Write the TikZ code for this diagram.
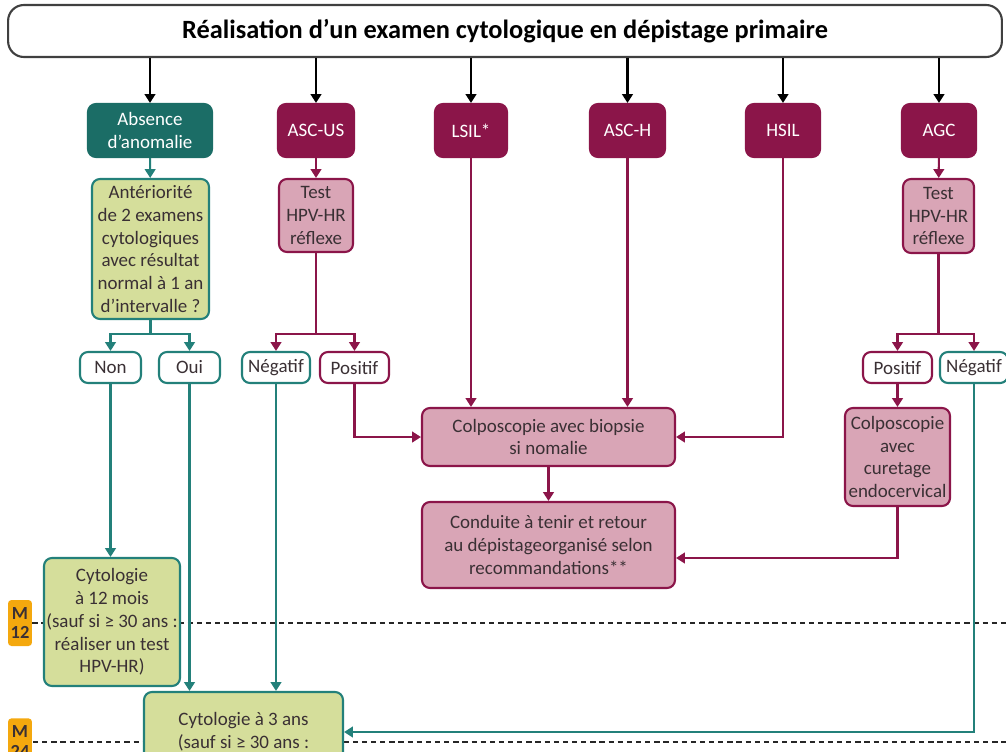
\documentclass[tikz,border=0pt]{standalone}
\usepackage{fontspec}
\setmainfont{Carlito}
\usepackage{xcolor}
\usepackage{tikz}
\usetikzlibrary{arrows.meta,shapes,backgrounds,calc}
\definecolor{tealdk}{HTML}{1B6D66}
\definecolor{tealln}{HTML}{23807A}
\definecolor{maroon}{HTML}{8B1549}
\definecolor{pinkfill}{HTML}{D9A5B6}
\definecolor{greenfill}{HTML}{D5DE9B}
\definecolor{orangetag}{HTML}{F4A80E}
\definecolor{txtgray}{HTML}{3A3034}
\tikzstyle{box}=[rectangle, rounded corners=4.5pt, line width=1.2pt, align=center,% every box of the chart
inner sep=1pt, font=\fontsize{10.8}{13}\selectfont, text=txtgray]
\tikzstyle{darkred}=[box, draw=maroon, fill=maroon, text=white, minimum height=1.06cm]
\tikzstyle{darkteal}=[box, draw=tealdk, fill=tealdk, text=white, minimum height=1.06cm]
\tikzstyle{pinkbox}=[box, draw=maroon, fill=pinkfill]
\tikzstyle{greenbox}=[box, draw=tealln, fill=greenfill]
\tikzstyle{redans}=[box, draw=maroon, fill=white, minimum height=0.62cm]
\tikzstyle{tealans}=[box, draw=tealln, fill=white, minimum height=0.62cm]
\tikzstyle{mtag}=[rectangle, rounded corners=2pt, fill=orangetag, text=txtgray, align=center,
inner sep=0pt, minimum width=0.48cm, font=\bfseries\fontsize{10.5}{11}\selectfont]
\tikzstyle{flow}=[-{Triangle[width=6pt,length=5pt]}, line width=1.2pt]
\tikzstyle{rflow}=[flow, draw=maroon]
\tikzstyle{tflow}=[flow, draw=tealln]
\tikzstyle{mline}=[line width=1.3pt, draw=black!85, dash pattern=on 3pt off 2.2pt]

\begin{document}
\begin{tikzpicture}[x=0.02cm, y=-0.02cm]
\useasboundingbox (0,0) rectangle (1006,751);
\clip (0,0) rectangle (1006,751);
\coordinate (redge) at (1006,0);
% header
\node[box, draw=black!75, fill=white, text=black, rounded corners=9pt, minimum width=19.88cm,
minimum height=1.04cm, font=\bfseries\fontsize{15}{17}\selectfont] (title) at (505,31)
{Réalisation d’un examen cytologique en dépistage primaire};
% results of the cytology
\node[darkteal, minimum width=2.48cm] (absence) at (150,130.5) {Absence\\d’anomalie};
\node[darkred, minimum width=1.52cm] (ascus) at (316,130.5) {ASC-US};
\node[darkred, minimum width=1.44cm] (lsil) at (471,130.5) {LSIL*};
\node[darkred, minimum width=1.50cm] (asch) at (627.5,130.5) {ASC-H};
\node[darkred, minimum width=1.48cm] (hsil) at (783,130.5) {HSIL};
\node[darkred, minimum width=1.48cm] (agc) at (939,130.5) {AGC};
\foreach \n in {absence,ascus,lsil,asch,hsil,agc}
  \draw[flow] (title.south -| \n.north) -- (\n.north);
% second row
\node[greenbox, minimum width=2.34cm, minimum height=2.8cm] (anter) at (150.5,249)
{Antériorité\\de 2 examens\\cytologiques\\avec résultat\\normal à 1 an\\d’intervalle ?};
\node[pinkbox, minimum width=1.48cm, minimum height=1.46cm] (testa) at (316,215.5) {Test\\HPV-HR\\réflexe};
\node[pinkbox, minimum width=1.42cm, minimum height=1.48cm] (testb) at (938.5,216) {Test\\HPV-HR\\réflexe};
\draw[tflow] (absence) -- (anter);
\draw[rflow] (ascus) -- (testa);
\draw[rflow] (agc) -- (testb);
% answers
\node[tealans, minimum width=1.22cm] (non) at (110.5,367.5) {Non};
\node[tealans, minimum width=1.22cm] (oui) at (189.5,367.5) {Oui};
\node[tealans, minimum width=1.36cm] (nega) at (276,367.5) {Négatif};
\node[redans, minimum width=1.38cm] (posa) at (354.5,367.5) {Positif};
\node[redans, minimum width=1.38cm] (posb) at (897.5,367.5) {Positif};
\node[tealans, minimum width=1.36cm] (negb) at (974,367.5) {Négatif};
\draw[tflow] (anter.south) -- ++(0,14) -| (non.north);
\draw[tflow] (anter.south) -- ++(0,14) -| (oui.north);
\draw[rflow] (testa.south) -- ++(0,81) -| (nega.north);
\draw[rflow] (testa.south) -- ++(0,81) -| (posa.north);
\draw[rflow] (testb.south) -- ++(0,80) -| (posb.north);
\draw[rflow] (testb.south) -- ++(0,80) -| (negb.north);
% colposcopies
\node[pinkbox, minimum width=5.06cm, minimum height=1.16cm] (colpo) at (548.5,437)
{Colposcopie avec biopsie\\si nomalie};
\node[pinkbox, minimum width=5.06cm, minimum height=1.72cm] (conduite) at (548.5,545)
{Conduite à tenir et retour\\au dépistageorganisé selon\\recommandations**};
\node[pinkbox, minimum width=2.1cm, minimum height=1.96cm] (curetage) at (897.5,457)
{Colposcopie\\avec\\curetage\\endocervical};
\draw[rflow] (lsil.south) -- (lsil.south |- colpo.north);
\draw[rflow] (asch.south) -- (asch.south |- colpo.north);
\draw[rflow] (hsil.south) |- (colpo.east);
\draw[rflow] (posa.south) |- (colpo.west);
\draw[rflow] (colpo) -- (conduite);
\draw[rflow] (posb) -- (curetage);
\draw[rflow] (curetage.south) |- ([yshift=-0.26cm]conduite.east);
% follow-up
\node[greenbox, minimum width=2.72cm, minimum height=2.56cm] (cyto12) at (112,622)
{Cytologie\\à 12 mois\\(sauf si ≥ 30 ans :\\réaliser un test\\HPV-HR)};
\node[greenbox, minimum width=3.98cm, minimum height=1.6cm] (cyto3) at (243.5,732)
{Cytologie à 3 ans\\(sauf si ≥ 30 ans :};
\draw[tflow] (non.south) -- (non.south |- cyto12.north);
\draw[tflow] (oui.south) -- (oui.south |- cyto3.north);
\draw[tflow] (nega.south) -- (nega.south |- cyto3.north);
\draw[tflow] (negb.south) |- (cyto3.east);
% months
\node[mtag, minimum height=0.92cm] (m12) at (20,623) {M\\12};
\node[mtag, minimum height=0.92cm, anchor=north] (m24) at (20,718) {M\\24};
\begin{pgfonlayer}{background}
\draw[mline] (m12.east) -- (m12.east -| redge);
\draw[mline] (33,742) coordinate (m24l) -- (m24l -| redge);
\end{pgfonlayer}
\end{tikzpicture}
\end{document}
